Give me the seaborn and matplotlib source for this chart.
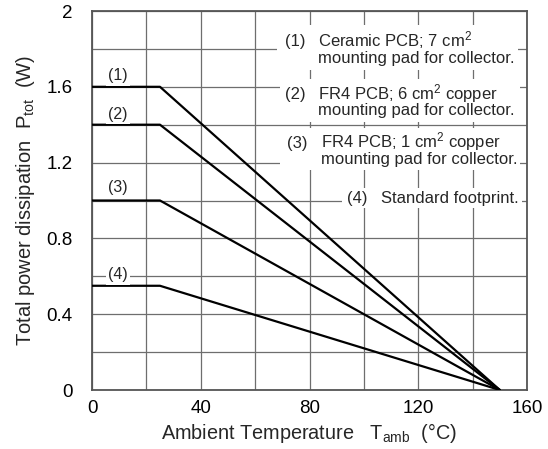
import matplotlib
matplotlib.use("Agg")
import matplotlib.pyplot as plt
import seaborn as sns
import pandas as pd
from matplotlib.patches import Rectangle
from matplotlib.ticker import MultipleLocator

sns.set_style("white")
plt.rcParams['font.family'] = ['Liberation Sans', 'DejaVu Sans']
plt.rcParams['mathtext.fontset'] = 'custom'
plt.rcParams['mathtext.rm'] = 'Liberation Sans'
plt.rcParams['mathtext.it'] = 'Liberation Sans'

# Data
temps = [0, 25, 150]
curve_ids = ["(1)", "(2)", "(3)", "(4)"]
ptot_1 = [1.6, 1.6, 0.0]
ptot_2 = [1.4, 1.4, 0.0]
ptot_3 = [1.0, 1.0, 0.0]
ptot_4 = [0.55, 0.55, 0.0]
legend_line1 = [
    r"Ceramic PCB; 7 cm$^{2}$",
    r"FR4 PCB; 6 cm$^{2}$ copper",
    r"FR4 PCB; 1 cm$^{2}$ copper",
    "Standard footprint.",
]
legend_line2 = [
    "mounting pad for collector.",
    "mounting pad for collector.",
    "mounting pad for collector.",
    "",
]
x_ticks = [0, 40, 80, 120, 160]
y_ticks = [0, 0.4, 0.8, 1.2, 1.6, 2]
y_tick_labels = ["0", "0.4", "0.8", "1.2", "1.6", "2"]

all_curves = [ptot_1, ptot_2, ptot_3, ptot_4]
rows = []
for cid, vals in zip(curve_ids, all_curves):
    for t, p in zip(temps, vals):
        rows.append({"curve": cid, "T": t, "P": p})
df = pd.DataFrame(rows)

fig = plt.figure(figsize=(5.48, 4.49), dpi=100)
ax = fig.add_axes([0.1679, 0.1314, 0.9617 - 0.1679, 0.9755 - 0.1314])

sns.lineplot(data=df, x="T", y="P", hue="curve", palette=["black"] * 4,
             linewidth=1.6, legend=False, ax=ax, zorder=3)

ax.set_xlim(0, 160)
ax.set_ylim(0, 2)
ax.set_xticks(x_ticks)
ax.set_xticklabels([str(v) for v in x_ticks])
ax.set_yticks(y_ticks)
ax.set_yticklabels(y_tick_labels)
ax.xaxis.set_minor_locator(MultipleLocator(20))
ax.yaxis.set_minor_locator(MultipleLocator(0.2))
ax.grid(True, which='both', color='#6e6e6e', linewidth=0.9)
ax.set_axisbelow(True)
ax.tick_params(axis='both', which='both', length=0, labelsize=13.5, colors='black')
ax.tick_params(axis='y', pad=14)
ax.tick_params(axis='x', pad=7)
for s in ax.spines.values():
    s.set_visible(True)
    s.set_color('#555555')
    s.set_linewidth(1.3)

ax.set_xlabel(r"Ambient Temperature   T$_{\rm amb}$  (°C)", fontsize=14.3, labelpad=3)
ax.set_ylabel(r"Total power dissipation  P$_{\rm tot}$  (W)", fontsize=14.5, labelpad=7)

# curve labels
label_y = [1.657, 1.456, 1.066, 0.607]
for cid, yy in zip(curve_ids, label_y):
    ax.text(9.6, yy, cid, ha='center', va='center', fontsize=11.5, zorder=4,
            bbox=dict(facecolor='white', edgecolor='none', pad=1.5))

# legend blocks (white boxes over grid)
boxes = [(68.0, 1.689, 156.7, 1.926),
         (69.0, 1.414, 157.5, 1.64),
         (69.0, 1.161, 157.5, 1.383),
         (92.0, 0.96, 158.0, 1.066)]
num_x = [71.0, 71.0, 71.7, 93.8]
desc_x = [83.1, 83.1, 84.2, 106.3]
base1 = [1.815, 1.536, 1.278, 0.988]
base2 = [1.724, 1.451, 1.192, 0.9]
for i in range(4):
    x0, y0, x1, y1 = boxes[i]
    ax.add_patch(Rectangle((x0, y0), x1 - x0, y1 - y0, facecolor='white',
                           edgecolor='none', zorder=2.5))
    ax.text(num_x[i], base1[i], curve_ids[i], ha='left', va='baseline', fontsize=12, zorder=4)
    ax.text(desc_x[i], base1[i], legend_line1[i], ha='left', va='baseline', fontsize=12, zorder=4)
    if legend_line2[i]:
        ax.text(desc_x[i], base2[i], legend_line2[i], ha='left', va='baseline', fontsize=12, zorder=4)

fig.savefig("out.png", dpi=100)
